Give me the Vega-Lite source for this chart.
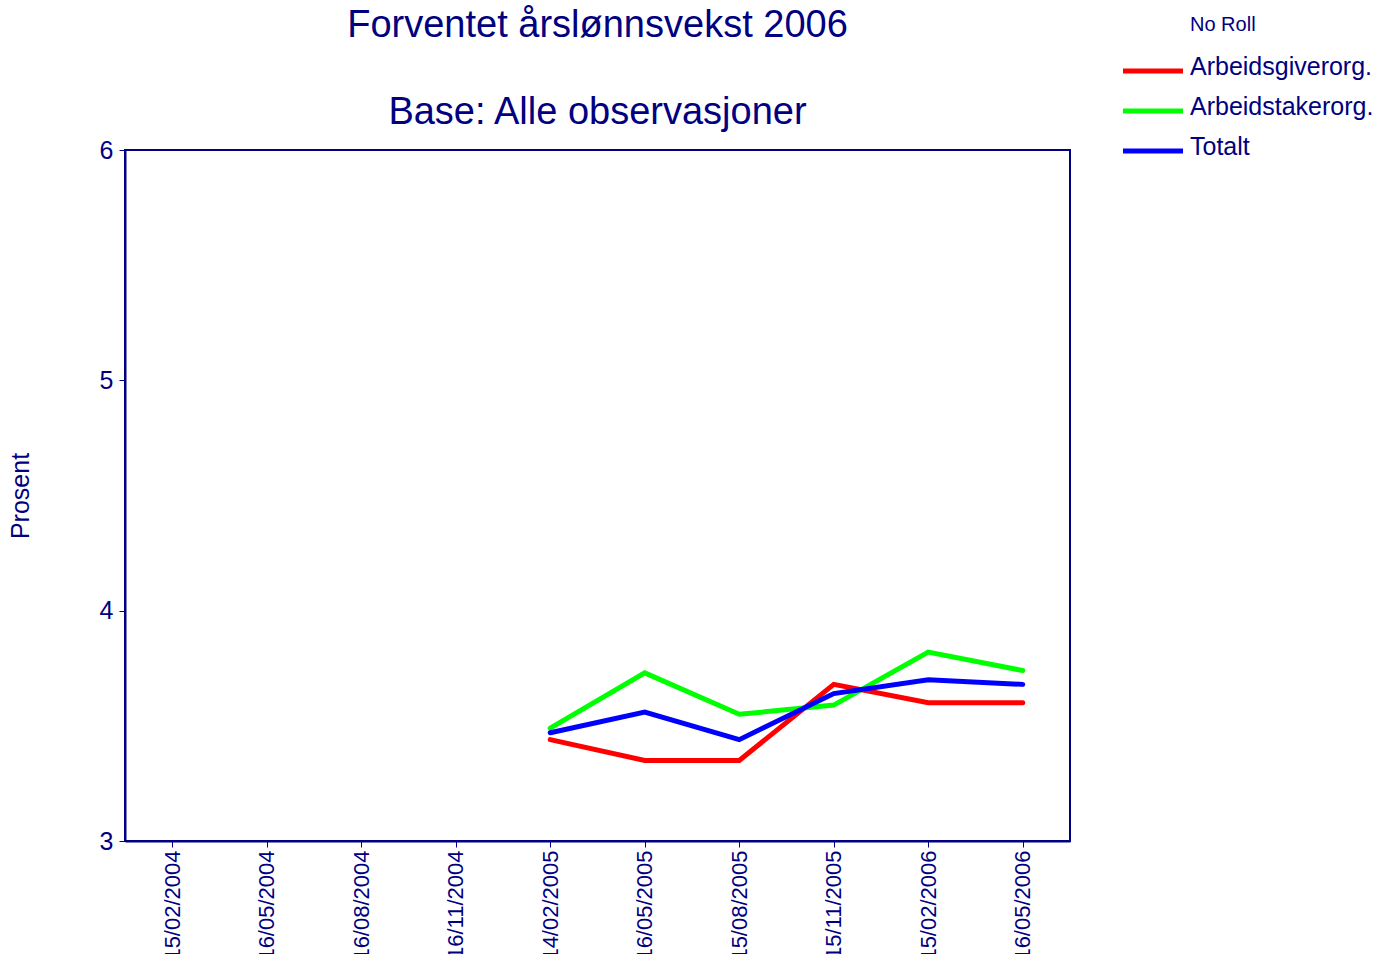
{
  "$schema": "https://vega.github.io/schema/vega-lite/v6.json",
  "width": 945,
  "height": 691,
  "autosize": {"type": "none"},
  "padding": {"left": 125, "top": 150, "right": 312, "bottom": 113},
  "background": "white",
  "title": {
    "text": ["Forventet årslønnsvekst 2006", "Base: Alle observasjoner"],
    "font": "Liberation Sans",
    "fontSize": 38,
    "fontWeight": "normal",
    "color": "#000080",
    "lineHeight": 87,
    "anchor": "middle",
    "frame": "group",
    "baseline": "alphabetic",
    "offset": -147
  },
  "config": {
    "font": "Liberation Sans",
    "view": {"stroke": "#000080", "strokeWidth": 2},
    "axis": {"grid": false}
  },
  "data": {
    "values": [
      {"dato": "14/02/2005", "serie": "Arbeidsgiverorg.", "prosent": 3.44},
      {"dato": "16/05/2005", "serie": "Arbeidsgiverorg.", "prosent": 3.35},
      {"dato": "15/08/2005", "serie": "Arbeidsgiverorg.", "prosent": 3.35},
      {"dato": "15/11/2005", "serie": "Arbeidsgiverorg.", "prosent": 3.68},
      {"dato": "15/02/2006", "serie": "Arbeidsgiverorg.", "prosent": 3.60},
      {"dato": "16/05/2006", "serie": "Arbeidsgiverorg.", "prosent": 3.60},
      {"dato": "14/02/2005", "serie": "Arbeidstakerorg.", "prosent": 3.49},
      {"dato": "16/05/2005", "serie": "Arbeidstakerorg.", "prosent": 3.73},
      {"dato": "15/08/2005", "serie": "Arbeidstakerorg.", "prosent": 3.55},
      {"dato": "15/11/2005", "serie": "Arbeidstakerorg.", "prosent": 3.59},
      {"dato": "15/02/2006", "serie": "Arbeidstakerorg.", "prosent": 3.82},
      {"dato": "16/05/2006", "serie": "Arbeidstakerorg.", "prosent": 3.74},
      {"dato": "14/02/2005", "serie": "Totalt", "prosent": 3.47},
      {"dato": "16/05/2005", "serie": "Totalt", "prosent": 3.56},
      {"dato": "15/08/2005", "serie": "Totalt", "prosent": 3.44},
      {"dato": "15/11/2005", "serie": "Totalt", "prosent": 3.64},
      {"dato": "15/02/2006", "serie": "Totalt", "prosent": 3.70},
      {"dato": "16/05/2006", "serie": "Totalt", "prosent": 3.68}
    ]
  },
  "mark": {"type": "line", "strokeWidth": 5, "strokeCap": "round", "strokeJoin": "miter"},
  "encoding": {
    "x": {
      "field": "dato",
      "type": "ordinal",
      "scale": {
        "type": "point",
        "padding": 0.5,
        "domain": ["15/02/2004", "16/05/2004", "16/08/2004", "16/11/2004", "14/02/2005", "16/05/2005", "15/08/2005", "15/11/2005", "15/02/2006", "16/05/2006"]
      },
      "axis": {
        "title": null,
        "labelAngle": -90,
        "labelFontSize": 22,
        "labelColor": "#000080",
        "labelPadding": 3,
        "tickColor": "#000080",
        "tickSize": 6,
        "domainColor": "#000080",
        "domainWidth": 2
      }
    },
    "y": {
      "field": "prosent",
      "type": "quantitative",
      "scale": {"domain": [3, 6], "zero": false, "nice": false},
      "axis": {
        "title": "Prosent",
        "titleFontSize": 25,
        "titleFontWeight": "normal",
        "titleColor": "#000080",
        "titlePadding": 66,
        "values": [3, 4, 5, 6],
        "format": "d",
        "labelFontSize": 25,
        "labelColor": "#000080",
        "labelPadding": 6,
        "tickColor": "#000080",
        "tickSize": 6,
        "domainColor": "#000080",
        "domainWidth": 2
      }
    },
    "color": {
      "field": "serie",
      "type": "nominal",
      "scale": {
        "domain": ["Arbeidsgiverorg.", "Arbeidstakerorg.", "Totalt"],
        "range": ["#ff0000", "#00ff00", "#0000ff"]
      },
      "legend": {
        "title": "No Roll",
        "orient": "none",
        "legendX": 1065,
        "legendY": -135,
        "titleFontSize": 20,
        "titleFontWeight": "normal",
        "titleColor": "#000080",
        "titlePadding": 19,
        "symbolType": "M-7.95,0.45H-1.95",
        "symbolSize": 400,
        "symbolStrokeWidth": 5,
        "labelFontSize": 25,
        "labelColor": "#000080",
        "labelOffset": -25,
        "labelLimit": 300,
        "rowPadding": 13
      }
    }
  }
}
